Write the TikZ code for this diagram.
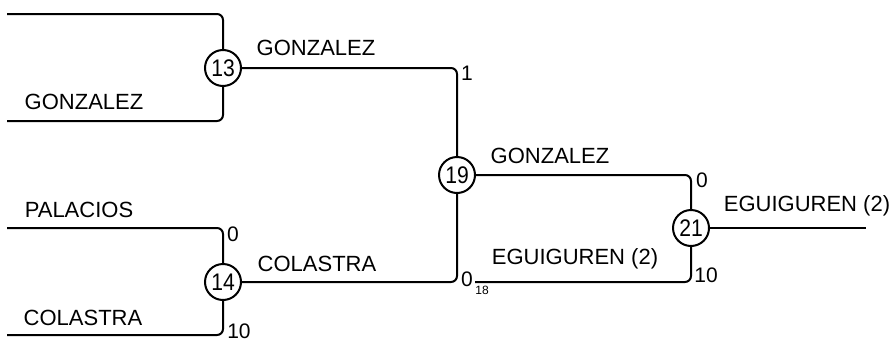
\documentclass[tikz,border=0pt]{standalone}
\usepackage{fontspec}
\setmainfont{Liberation Sans}
\begin{document}
\begin{tikzpicture}[x=0.5pt,y=-0.5pt,
  seed/.style={circle,draw,line width=1pt,minimum size=18pt,inner sep=0pt,font=\fontsize{12}{12}\selectfont,fill=white},
  wire/.style={line width=1pt,rounded corners=3pt},
  player/.style={font=\fontsize{11}{11}\selectfont,inner sep=0pt},
  score/.style={font=\fontsize{10.5}{10.5}\selectfont,inner sep=0pt},
  tinyscore/.style={font=\fontsize{6}{6}\selectfont,inner sep=0pt}]
\useasboundingbox (0,0) rectangle (894,343);
% free ends
\coordinate (a1) at (7,14);
\coordinate (a2) at (7,121);
\coordinate (b1) at (7,228);
\coordinate (b2) at (7,335);
\coordinate (e18) at (475,282);
\coordinate (out) at (866,228);
% seeds
\node[seed] (c13) at (223,68) {\scalebox{0.88}[1]{13}};
\node[seed] (c14) at (223,282) {\scalebox{0.88}[1]{14}};
\node[seed] (c19) at (457,175) {\scalebox{0.88}[1]{19}};
\node[seed] (c21) at (691,228) {\scalebox{0.88}[1]{21}};
% wires
\draw[wire] (a1) -| (c13);
\draw[wire] (a2) -| (c13);
\draw[wire] (b1) -| (c14);
\draw[wire] (b2) -| (c14);
\draw[wire] (c13) -| (c19);
\draw[wire] (c14) -| (c19);
\draw[wire] (c19) -| (c21);
\draw[wire] (e18) -| (c21);
\draw[wire] (c21) -- (out);
% names
\node[player] (n1) at (84,102) {GONZALEZ};
\node[player] (n2) at (316,47.5) {GONZALEZ};
\node[player] (n3) at (79,209.5) {PALACIOS};
\node[player] (n4) at (83,318) {COLASTRA};
\node[player] (n5) at (317,264) {COLASTRA};
\node[player] (n6) at (550,155.5) {GONZALEZ};
\node[player] (n7) at (575,259) {EGUIGUREN (2)};
\node[player] (n8) at (807,205.5) {EGUIGUREN (2)};
% scores
\node[score] (s1) at (467,73.5) {1};
\node[score] (s2) at (233,234.5) {0};
\node[score] (s3) at (239,331.5) {10};
\node[score] (s4) at (467,279.5) {0};
\node[tinyscore] (s5) at (482,290.5) {18};
\node[score] (s6) at (702,180.5) {0};
\node[score] (s7) at (706,275) {10};
\end{tikzpicture}
\end{document}
